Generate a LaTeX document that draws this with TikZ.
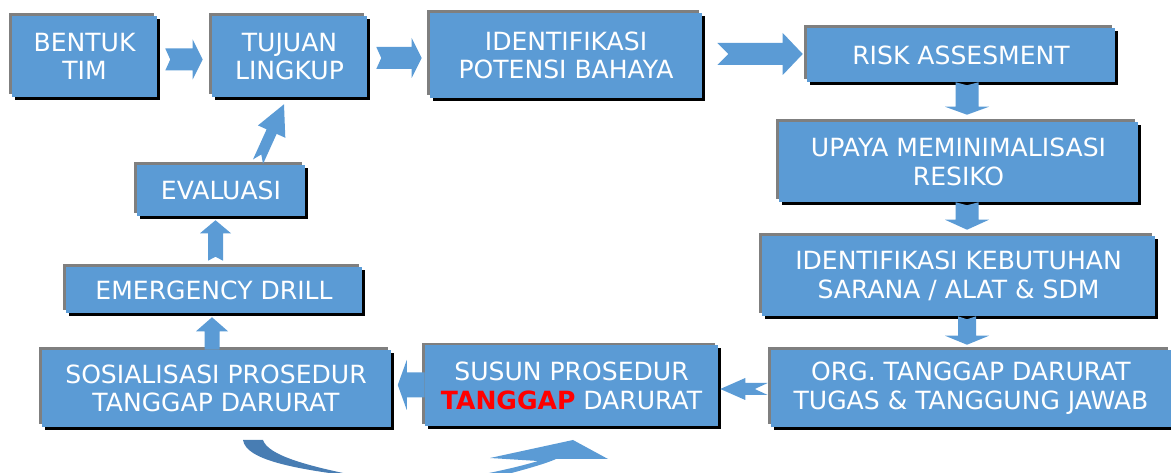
\documentclass[tikz,border=0pt]{standalone}
\usepackage{fontspec}
\setmainfont{DejaVu Sans}
\usetikzlibrary{calc,shadows}
\definecolor{boxblue}{HTML}{5B9BD5}
\definecolor{arrowblue}{HTML}{5B9BD5}
\definecolor{curveblue}{HTML}{487DB3}
\definecolor{edgegray}{HTML}{7F7F7F}
\definecolor{tgred}{HTML}{FF0000}
% block arrow from #2 to #3: shaft half, head half, head length, notch (px)
\newcommand\blockarr[7][]{%
  \fill[arrowblue,#1] let \p1=(#2), \p2=(#3),
    \n1={atan2(\y2-\y1,\x2-\x1)}, \n2={veclen(\x2-\x1,\y2-\y1)} in
    [shift={(\p1)},rotate=\n1]
    (0pt,{#4*0.75pt}) -- ({\n2-#6*0.75pt},{#4*0.75pt}) -- ({\n2-#6*0.75pt},{#5*0.75pt})
    -- ({\n2+0pt},0pt) -- ({\n2-#6*0.75pt},{-#5*0.75pt}) -- ({\n2-#6*0.75pt},{-#4*0.75pt})
    -- (0pt,{-#4*0.75pt}) -- ({#7*0.75pt},0pt) -- cycle;}

\begin{document}
\begin{tikzpicture}[x=0.75pt,y=-0.75pt,
    panel/.style 2 args={fill=boxblue,text=white,align=center,inner sep=0pt,
      minimum width=#1*0.75pt,minimum height=#2*0.75pt,
      font=\fontsize{18.8}{21.5}\selectfont,
      general shadow={fill=edgegray,shadow xshift=-1.9pt,shadow yshift=1.9pt},
      general shadow={fill=black,shadow xshift=2.25pt,shadow yshift=-2.25pt}}]
  \useasboundingbox (0,0) rectangle (1171,473);
  % top row
  \node[panel={145}{81}] (tim) at (84.5,56.5) {BENTUK\\TIM};
  \node[panel={155}{81}] (tujuan) at (289.5,56.5) {TUJUAN\\LINGKUP};
  \node[panel={272}{85}] (identpot) at (566,55.5) {IDENTIFIKASI\\POTENSI BAHAYA};
  \node[panel={308}{54}] (risk) at (961,55) {RISK ASSESMENT};
  % right column
  \node[panel={359}{80}] (upaya) at (958.5,162) {UPAYA MEMINIMALISASI\\RESIKO};
  \node[panel={393}{80}] (kebutuhan) at (958.5,276) {IDENTIFIKASI KEBUTUHAN\\SARANA / ALAT \& SDM};
  \node[panel={400}{77}] (org) at (971,388.5) {ORG. TANGGAP DARURAT\\TUGAS \& TANGGUNG JAWAB};
  % bottom row and left column
  \node[panel={293}{81}] (susun) at (571.5,386) {SUSUN PROSEDUR\\{\color{tgred}\bfseries TANGGAP} DARURAT};
  \node[panel={349}{77}] (sos) at (216,388.5) {SOSIALISASI PROSEDUR\\TANGGAP DARURAT};
  \node[panel={296}{46}] (drill) at (214,290) {EMERGENCY DRILL};
  \node[panel={168}{51}] (eval) at (221,190.5) {EVALUASI};

  \blockarr{$(tim.east)+(8,3)$}{$(tujuan.west)+(-9,3)$}{11}{20}{10}{5}
  \blockarr{$(tujuan.east)+(9,1.5)$}{$(identpot.west)+(-8,2.5)$}{11}{20}{10}{5}
  \blockarr{$(identpot.east)+(15,-1.5)$}{$(risk.west)+(-4,-1)$}{11}{21}{20}{11}
  \blockarr{$(risk.south)+(6,0)$}{$(upaya.north)+(8.5,-7)$}{11.5}{22}{8}{3}
  \blockarr{$(upaya.south)+(8.5,0)$}{$(kebutuhan.north)+(8.5,-6)$}{11.5}{22}{10}{3}
  \blockarr{$(kebutuhan.south)+(8.5,0)$}{$(org.north)+(-4,-5)$}{9}{22}{9}{3}
  \blockarr{$(org.west)+(-3,0.5)$}{$(susun.east)+(2,3)$}{6}{11}{25}{13}
  \blockarr{$(susun.west)+(0,-1)$}{$(sos.east)+(7,-3.5)$}{12.5}{25}{9}{0}
  \blockarr{$(sos.north)+(-4,0)$}{$(drill.south)+(-2,4)$}{7.5}{16}{14}{0}
  \blockarr{$(drill.north)+(1.5,-6)$}{$(eval.south)+(-5.5,4)$}{7.5}{15.5}{13}{4}
  \blockarr{$(eval.north)+(37,-3)$}{$(tujuan.south)+(-5.5,7)$}{5.5}{15}{30}{8}

  % curved return arrow, cut at the bottom edge
  \begin{scope}
    \clip (0,0) rectangle (1171,473);
    \fill[curveblue] (243,440) .. controls (246,461) and (300,470) .. (368,478)
      .. controls (305,466) and (268,455) .. (263,440) -- cycle;
    \fill[arrowblue] (474,476) .. controls (505,470) and (525,465) .. (538,461) -- (490,458)
      -- (573,440) -- (608,459) -- (556,459) .. controls (545,464) and (520,471) .. (492,478) -- cycle;
  \end{scope}
\end{tikzpicture}
\end{document}
